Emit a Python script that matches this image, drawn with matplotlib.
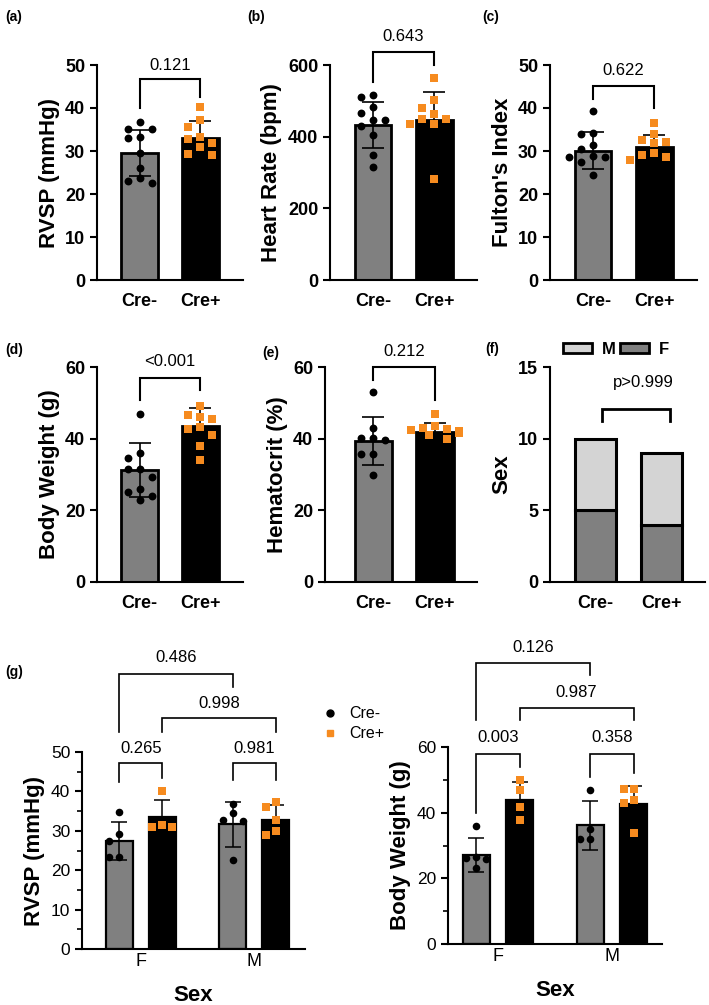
import numpy as np
import matplotlib
matplotlib.use("Agg")
import matplotlib.pyplot as plt
from matplotlib.patches import Patch
from matplotlib.lines import Line2D
from matplotlib.ticker import MultipleLocator

plt.rcParams['font.family'] = ['Liberation Sans', 'DejaVu Sans']

GRAY = '#808080'
LIGHT = '#d4d4d4'
ORANGE = '#f68b1f'

groups = ['Cre-', 'Cre+']

# (a) RVSP
a_neg = [36.8, 35.2, 35.0, 33.3, 33.0, 29.5, 26.0, 23.8, 23.0, 22.5]
a_pos = [40.2, 37.2, 35.5, 33.2, 32.8, 31.8, 31.0, 29.4, 29.0]
a_mean = [29.6, 33.1]
a_sd = [5.3, 3.9]

# (b) heart rate
b_neg = [516, 510, 484, 465, 447, 447, 430, 405, 349, 316]
b_pos = [565, 502, 479, 463, 448, 448, 434, 434, 282]
b_mean = [433, 446]
b_sd = [65, 80]

# (c) Fulton's index
c_neg = [39.3, 34.1, 33.9, 31.4, 30.5, 28.8, 28.6, 28.5, 27.5, 24.4]
c_pos = [36.6, 33.9, 32.6, 32.2, 31.8, 29.5, 29.1, 28.7, 27.9]
c_mean = [30.1, 30.9]
c_sd = [4.4, 2.8]

# (d) body weight
d_neg = [47.0, 36.0, 34.6, 31.6, 31.6, 29.3, 26.0, 25.1, 24.0, 23.0]
d_pos = [49.0, 46.5, 46.0, 45.5, 43.3, 42.8, 40.9, 38.0, 34.0]
d_mean = [31.2, 43.4]
d_sd = [7.6, 5.2]

# (e) hematocrit
e_neg = [53.0, 43.1, 40.2, 40.2, 39.5, 35.8, 35.8, 30.0]
e_pos = [47.0, 43.5, 43.0, 42.8, 42.5, 42.0, 41.5, 41.0, 40.0]
e_mean = [39.3, 41.9]
e_sd = [6.7, 2.6]

# (f) sex counts
f_female = [5, 4]
f_male = [5, 5]

# (g) by sex: order F Cre-, F Cre+, M Cre-, M Cre+
sexes = ['F', 'M']
g_rvsp = [[34.8, 29.3, 27.4, 23.4, 23.4],
          [40.1, 31.4, 31.0, 31.0],
          [36.9, 34.4, 32.7, 32.5, 22.6],
          [37.3, 36.1, 32.7, 29.9, 28.9]]
g_rvsp_mean = [27.4, 33.4, 31.6, 32.7]
g_rvsp_sd = [4.9, 4.5, 5.6, 3.8]

g_bw = [[36.0, 26.5, 26.2, 25.8, 23.0],
        [49.8, 46.8, 41.7, 37.9],
        [46.8, 34.9, 32.1, 32.1],
        [47.1, 47.1, 43.8, 42.8, 33.8]]
g_bw_mean = [27.1, 44.0, 36.1, 42.6]
g_bw_sd = [5.2, 5.3, 7.4, 5.5]

fig = plt.figure(figsize=(7.09, 10.05), dpi=100)


def add_ax(l, r, t, b):
    return fig.add_axes([l / 709, 1 - b / 1005, (r - l) / 709, (b - t) / 1005])


def swarm(ax, center, vals, step=12.0, gap=9.0):
    # spread overlapping points sideways (in pixels)
    disp = ax.transData.transform([(center, v) for v in vals])
    placed = []
    out = []
    cands = [0, -step, step, -step / 2, step / 2, -2 * step, 2 * step]
    for x0, y0 in disp:
        for off in cands:
            if all(np.hypot(x0 + off - px, y0 - py) >= gap for px, py in placed):
                break
        placed.append((x0 + off, y0))
        out.append(ax.transData.inverted().transform((x0 + off, y0)))
    return np.array(out)


def style(ax, bold=True, size=13):
    for s in ['top', 'right']:
        ax.spines[s].set_visible(False)
    for s in ['left', 'bottom']:
        ax.spines[s].set_linewidth(1.5)
    ax.tick_params(axis='y', direction='out', length=5, width=1.5, labelsize=size)
    ax.tick_params(axis='x', length=0, labelsize=size)
    if bold:
        for lab in ax.get_yticklabels() + ax.get_xticklabels():
            lab.set_fontweight('bold')


def bracket(ax, x1, x2, y, yl, yr, text, ty, tx=None, lw=1.5, fs=12):
    ax.plot([x1, x1, x2, x2], [yl, y, y, yr], color='black', lw=lw, clip_on=False,
            solid_joinstyle='miter')
    if tx is None:
        tx = (x1 + x2) / 2
    ax.text(tx, ty, text, ha='center', va='center', fontsize=fs, clip_on=False)


def two_group(ax, neg, pos, means, sds, ylim, ystep, ylabel, xlim=(-0.7, 1.7)):
    ax.set_xlim(*xlim)
    ax.set_ylim(*ylim)
    ax.bar([0, 1], means, width=0.6, color=[GRAY, 'black'], edgecolor='black', lw=2, zorder=1)
    ax.errorbar([0, 1], means, yerr=sds, fmt='none', ecolor='black', elinewidth=1.2,
                capsize=8, capthick=1.2, zorder=3)
    p = swarm(ax, 0, neg)
    ax.scatter(p[:, 0], p[:, 1], s=32, color='black', marker='o', zorder=4, lw=0)
    p = swarm(ax, 1, pos)
    ax.scatter(p[:, 0], p[:, 1], s=28, color=ORANGE, marker='s', zorder=4, lw=0)
    ax.set_xticks([0, 1])
    ax.set_xticklabels(groups)
    ax.yaxis.set_major_locator(MultipleLocator(ystep))
    ax.set_ylabel(ylabel, fontsize=16, fontweight='bold', labelpad=4)
    style(ax)
    ax.tick_params(axis='x', pad=9)


ax_a = add_ax(97, 243, 65, 280)
two_group(ax_a, a_neg, a_pos, a_mean, a_sd, (0, 50), 10, 'RVSP (mmHg)')
bracket(ax_a, 0, 1, 46.7, 39.9, 42.6, '0.121', 49.8)

ax_b = add_ax(330, 477, 65, 280)
two_group(ax_b, b_neg, b_pos, b_mean, b_sd, (0, 600), 200, 'Heart Rate (bpm)')
bracket(ax_b, 0, 1, 637, 553, 600, '0.643', 680)

ax_c = add_ax(550, 697, 65, 280)
two_group(ax_c, c_neg, c_pos, c_mean, c_sd, (0, 50), 10, "Fulton's Index")
bracket(ax_c, 0, 1, 45.1, 42.2, 39.9, '0.622', 48.8)

ax_d = add_ax(97, 243, 367, 582)
two_group(ax_d, d_neg, d_pos, d_mean, d_sd, (0, 60), 20, 'Body Weight (g)')
bracket(ax_d, 0, 1, 56.9, 50.7, 53.7, '<0.001', 61.4)

ax_e = add_ax(325, 477, 367, 582)
two_group(ax_e, e_neg, e_pos, e_mean, e_sd, (0, 60), 20, 'Hematocrit (%)', xlim=(-0.78, 1.68))
bracket(ax_e, 0, 1, 60.0, 56.5, 50.7, '0.212', 64.4)

# (f) stacked sex counts
ax_f = add_ax(550, 705, 367, 582)
ax_f.set_xlim(-0.69, 1.66)
ax_f.set_ylim(0, 15)
ax_f.bar([0, 1], f_female, width=0.63, color=GRAY, edgecolor='black', lw=2.2)
ax_f.bar([0, 1], f_male, bottom=f_female, width=0.63, color=LIGHT, edgecolor='black', lw=2.2)
ax_f.set_xticks([0, 1])
ax_f.set_xticklabels(groups)
ax_f.yaxis.set_major_locator(MultipleLocator(5))
ax_f.set_ylabel('Sex', fontsize=16, fontweight='bold', labelpad=4)
style(ax_f)
ax_f.tick_params(axis='x', pad=9)
bracket(ax_f, 0.1, 1.13, 12.1, 11.2, 11.2, 'p>0.999', 13.9, tx=0.73, lw=2)
fig.legend(handles=[Patch(facecolor=LIGHT, edgecolor='black', lw=2, label='M'),
                    Patch(facecolor=GRAY, edgecolor='black', lw=2, label='F')],
           loc='center', bbox_to_anchor=(616 / 709, 1 - 349 / 1005), ncol=2,
           frameon=False, handlelength=1.7, handleheight=0.55, handletextpad=0.6,
           columnspacing=0.3, prop={'weight': 'bold', 'size': 12})


def by_sex(ax, vals, means, sds, ylim, major, minor, ylabel, xlim):
    xs = [-0.19, 0.19, 0.81, 1.19]
    ax.set_xlim(*xlim)
    ax.set_ylim(*ylim)
    ax.bar(xs, means, width=0.235, color=[GRAY, 'black', GRAY, 'black'],
           edgecolor='black', lw=1.6, zorder=1)
    ax.errorbar(xs, means, yerr=sds, fmt='none', ecolor='black', elinewidth=1.1,
                capsize=6, capthick=1.1, zorder=3)
    for i, (x, v) in enumerate(zip(xs, vals)):
        p = swarm(ax, x, v, step=10, gap=8)
        if i % 2 == 0:
            ax.scatter(p[:, 0], p[:, 1], s=30, color='black', marker='o', zorder=4, lw=0)
        else:
            ax.scatter(p[:, 0], p[:, 1], s=26, color=ORANGE, marker='s', zorder=4, lw=0)
    ax.set_xticks([0, 1])
    ax.set_xticklabels(sexes)
    ax.yaxis.set_major_locator(MultipleLocator(major))
    ax.yaxis.set_minor_locator(MultipleLocator(minor))
    ax.set_ylabel(ylabel, fontsize=16, fontweight='bold', labelpad=4)
    ax.set_xlabel('Sex', fontsize=16, fontweight='bold', labelpad=11)
    style(ax, bold=False, size=12.5)
    ax.tick_params(axis='y', which='minor', direction='out', length=3.5, width=1.2)
    ax.tick_params(axis='x', pad=3, labelsize=13)


ax_g1 = add_ax(82, 305, 752, 949)
by_sex(ax_g1, g_rvsp, g_rvsp_mean, g_rvsp_sd, (0, 50), 10, 5, 'RVSP (mmHg)', (-0.52, 1.45))
bracket(ax_g1, -0.19, 0.81, 69.8, 55.1, 66.5, '0.486', 73.9, lw=1.2)
bracket(ax_g1, 0.19, 1.19, 58.6, 55.1, 55.1, '0.998', 62.2, lw=1.2)
bracket(ax_g1, -0.19, 0.19, 47.2, 42.4, 43.4, '0.265', 50.8, lw=1.2)
bracket(ax_g1, 0.81, 1.19, 47.2, 42.9, 42.9, '0.981', 50.8, lw=1.2)

ax_g2 = add_ax(448, 662, 747, 944)
by_sex(ax_g2, g_bw, g_bw_mean, g_bw_sd, (0, 60), 20, 10, 'Body Weight (g)', (-0.44, 1.44))
bracket(ax_g2, -0.19, 0.81, 85.6, 68.2, 82.0, '0.126', 90.2, lw=1.2)
bracket(ax_g2, 0.19, 1.19, 71.9, 68.2, 68.2, '0.987', 76.5, lw=1.2)
bracket(ax_g2, -0.19, 0.19, 57.9, 40.0, 54.0, '0.003', 63.0, lw=1.2)
bracket(ax_g2, 0.81, 1.19, 57.9, 50.9, 52.0, '0.358', 63.0, lw=1.2)

fig.legend(handles=[Line2D([], [], ls='none', marker='o', color='black', ms=5, label='Cre-'),
                    Line2D([], [], ls='none', marker='s', color=ORANGE, ms=5, label='Cre+')],
           loc='upper left', bbox_to_anchor=(308 / 709, 1 - 692 / 1005), frameon=False,
           handlelength=1.0, handletextpad=0.7, labelspacing=0.3, fontsize=11.5)

# panel letters
letters = [('(a)', 5, 17), ('(b)', 247, 17), ('(c)', 482, 17), ('(d)', 5, 350),
           ('(e)', 262, 353), ('(f)', 485, 349), ('(g)', 5, 672)]
for t, x, y in letters:
    fig.text(x / 709, 1 - y / 1005, t, fontsize=10, fontweight='bold', va='center', ha='left')

fig.savefig('out.png', dpi=100)
